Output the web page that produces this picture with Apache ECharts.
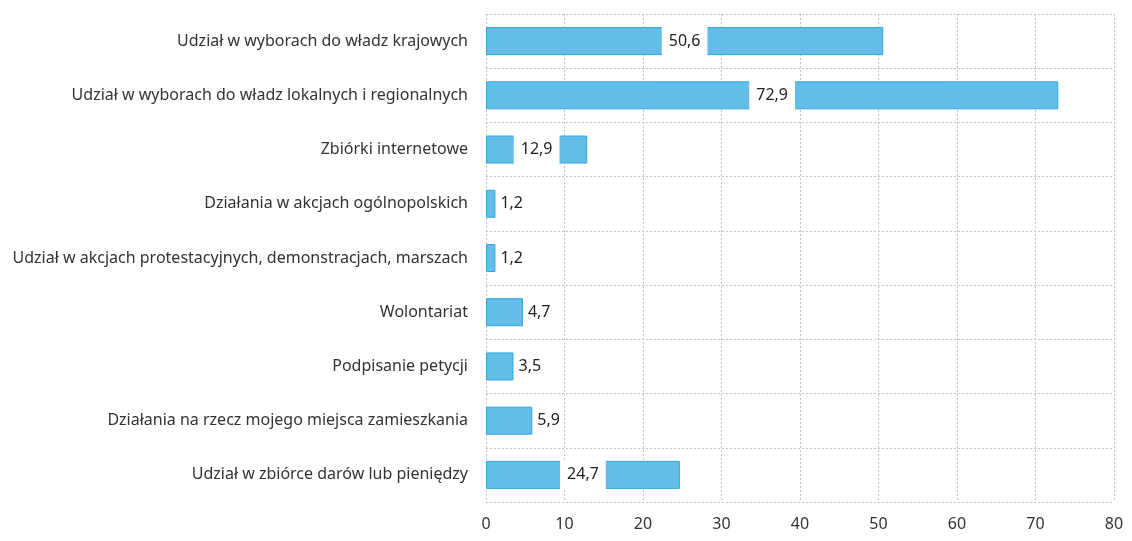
<!DOCTYPE html>
<html><head><meta charset="utf-8">
<script src="https://cdn.jsdelivr.net/npm/echarts@6/dist/echarts.min.js"></script>
<style>html,body{margin:0;padding:0;background:#fff}#c{width:1132px;height:541px}</style>
</head><body><div id="c"></div>
<script>
const categories = [
  "Udział w wyborach do władz krajowych",
  "Udział w wyborach do władz lokalnych i regionalnych",
  "Zbiórki internetowe",
  "Działania w akcjach ogólnopolskich",
  "Udział w akcjach protestacyjnych, demonstracjach, marszach",
  "Wolontariat",
  "Podpisanie petycji",
  "Działania na rzecz mojego miejsca zamieszkania",
  "Udział w zbiórce darów lub pieniędzy"
];
const values = [50.6, 72.9, 12.9, 1.2, 1.2, 4.7, 3.5, 5.9, 24.7];
const xTicks = [0, 10, 20, 30, 40, 50, 60, 70, 80];

const fmt = v => String(v).replace('.', ',');
const chart = echarts.init(document.getElementById('c'));
const gridLine = {color: '#bcc5d2', width: 1, type: [2, 2]};
chart.setOption({
  animation: false,
  grid: {left: 486, right: 18, top: 14, bottom: 39, containLabel: false},
  xAxis: {
    type: 'value', min: xTicks[0], max: xTicks[xTicks.length - 1], interval: 10,
    axisLine: {show: false}, axisTick: {show: false},
    axisLabel: {margin: 14, fontSize: 16, color: '#333', fontFamily: 'Noto Sans'},
    splitLine: {show: true, lineStyle: gridLine}
  },
  yAxis: {
    type: 'category', data: categories, inverse: true,
    axisLine: {show: false}, axisTick: {show: false},
    axisLabel: {margin: 18, fontSize: 16, color: '#333', fontFamily: 'Noto Sans'},
    splitLine: {show: true, lineStyle: gridLine}
  },
  series: [{
    type: 'bar', barWidth: 28,
    data: values.map(v => ({
      value: v,
      label: v > 10
        ? {position: 'inside', backgroundColor: '#fff', padding: [7, 7]}
        : {position: 'right', distance: 5}
    })),
    itemStyle: {color: '#62bde9', borderColor: '#2fa6de', borderWidth: 1},
    label: {show: true, formatter: p => fmt(p.value), fontSize: 16, color: '#222', fontFamily: 'Noto Sans'}
  }]
});
</script></body></html>
